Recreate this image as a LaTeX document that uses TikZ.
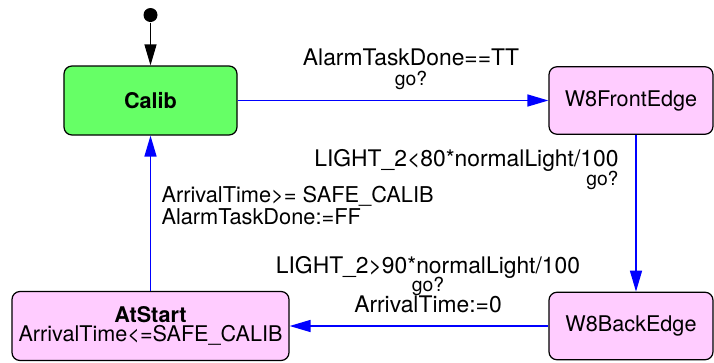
\documentclass[tikz,border=0pt]{standalone}
\usepackage{fontspec}
\setmainfont{TeX Gyre Heros}
\usetikzlibrary{arrows.meta}
\definecolor{calibgreen}{HTML}{66FF66}
\definecolor{locpink}{HTML}{FFCCFF}
\newcommand{\chan}[1]{{\fontsize{11}{11}\selectfont #1}}

\begin{document}
\begin{tikzpicture}[->,>={Triangle[length=0.42cm,width=0.24cm]},node distance=9.61cm,
                    line width=0.7pt]
  \tikzstyle{loc}=[draw=black,rounded corners=0.16cm,fill=locpink,minimum width=3.28cm,
                   minimum height=1.35cm,align=center,font=\fontsize{12.3}{11}\selectfont]
  \tikzstyle{init}=[circle,fill=black,inner sep=0pt,minimum size=0.28cm]
  \tikzstyle{trans}=[draw=blue,line width=0.85pt]
  \tikzstyle{guard}=[font=\fontsize{13}{11}\selectfont,inner sep=1pt]

  \useasboundingbox (0,0) rectangle (14.28,-7.24);

  \node[loc,fill=calibgreen,minimum width=3.46cm,minimum height=1.38cm] (calib) at (3.01,-2.01) {\bfseries Calib};
  \node[init]          (start)     [above of=calib, node distance=1.71cm] {};
  \node[loc]           (frontedge) [right of=calib] {W8FrontEdge};
  \node[loc,minimum width=5.54cm,minimum height=1.38cm]
                       (atstart)   [below of=calib, node distance=4.51cm] {{\bfseries AtStart}\\ArrivalTime<=SAFE\_CALIB};
  \node[loc]           (backedge)  [right of=atstart] {W8BackEdge};

  \path (start) edge (calib);
  \path (calib) edge[trans] node[guard,above=0.17cm,xshift=0.36cm,align=center]
            {AlarmTaskDone==TT\\\chan{go?}} (frontedge)
        ([xshift=0.1cm]frontedge.south) edge[trans] node[guard,pos=0.22,left=0.3cm,align=right]
            {LIGHT\_2<80*normalLight/100\\\chan{go?}} ([xshift=0.1cm]backedge.north)
        (backedge) edge[trans] node[guard,above=0.22cm,xshift=0.18cm,align=center]
            {LIGHT\_2>90*normalLight/100\\[-1pt]\chan{go?}\\[-1pt]ArrivalTime:=0} (atstart)
        (atstart) edge[trans] node[guard,pos=0.55,right=0.17cm,align=left,font=\fontsize{12.4}{10}\selectfont]
            {ArrivalTime>= SAFE\_CALIB\\AlarmTaskDone:=FF} (calib);
\end{tikzpicture}
\end{document}
